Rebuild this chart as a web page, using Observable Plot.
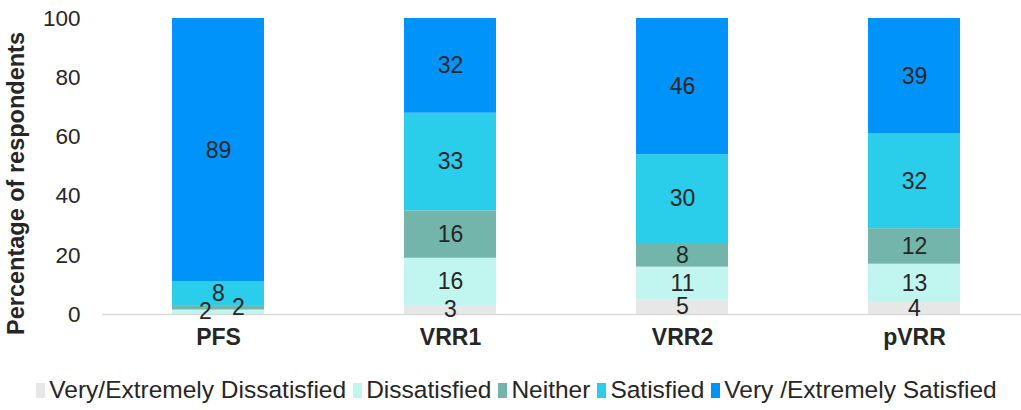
<!DOCTYPE html>
<html>
<head>
<meta charset="utf-8">
<script src="https://cdn.jsdelivr.net/npm/d3@7"></script>
<script src="https://cdn.jsdelivr.net/npm/@observablehq/plot@0.6"></script>
<style>
  html, body { margin: 0; padding: 0; background: #fff; }
  body { width: 1021px; height: 410px; overflow: hidden; font-family: "Liberation Sans", Arial, sans-serif; }
  #chart svg { display: block; }
  g[aria-label="y-axis label"] text { font-weight: bold; font-size: 23.5px; }
  g[aria-label="x-axis tick label"] text { font-weight: bold; }
  .legend { display: flex; justify-content: center; align-items: center; gap: 7px; font-size: 24.5px; color: #262626; margin-top: 14px; padding-left: 12px; white-space: nowrap; }
  .legend .item { display: flex; align-items: center; gap: 4px; }
  .legend .sw { width: 9px; height: 15px; display: inline-block; }
</style>
</head>
<body>
<div id="chart"></div>
<div class="legend" id="legend"></div>
<script>
const categories = ["PFS", "VRR1", "VRR2", "pVRR"];
const levels = ["Very/Extremely Dissatisfied", "Dissatisfied", "Neither", "Satisfied", "Very /Extremely Satisfied"];
const colors = ["#e7e7e7", "#c1f5ef", "#73b5aa", "#2acdea", "#0094fa"];
// values per category, in order of levels
const PFS  = [0, 1.5, 1.5, 8, 89];
const VRR1 = [3, 16, 16, 33, 32];
const VRR2 = [5, 11, 8, 30, 46];
const pVRR = [4, 13, 12, 32, 39];
const yTicks = [0, 20, 40, 60, 80, 100];

const series = {PFS, VRR1, VRR2, pVRR};
const data = [];
for (const c of categories) {
  series[c].forEach((v, i) => data.push({cat: c, level: levels[i], val: v}));
}

const isSmallPFS = d => d.cat === "PFS" && d.val < 5;
const stackOpts = {x: "cat", y: "val", z: "level", text: d => String(Math.round(d.val)), fill: "#262626", fontSize: 23};

const plot = Plot.plot({
  width: 1021,
  height: 362,
  marginTop: 18,
  marginBottom: 48,
  marginLeft: 102,
  marginRight: 0,
  style: {fontFamily: "'Liberation Sans', Arial, sans-serif", fontSize: "22.5px", color: "#262626", background: "#fff"},
  x: {domain: categories, range: [102, 1030], paddingInner: 0.6034, paddingOuter: 0.3017, label: null},
  y: {domain: [0, 100], label: null},
  color: {domain: levels, range: colors},
  marks: [
    Plot.barY(data, {x: "cat", y: "val", z: "level", fill: "level"}),
    Plot.ruleY([0], {stroke: "#d9d9d9", strokeWidth: 1.5}),
    Plot.text(data, Plot.filter(d => d.val > 0 && !isSmallPFS(d), Plot.stackY(stackOpts))),
    Plot.text(data, Plot.filter(d => isSmallPFS(d) && d.level === "Dissatisfied", Plot.stackY({...stackOpts, dx: -13, dy: -1}))),
    Plot.text(data, Plot.filter(d => isSmallPFS(d) && d.level === "Neither", Plot.stackY({...stackOpts, dx: 20, dy: 0}))),
    Plot.axisY({ticks: yTicks, tickSize: 0, tickPadding: 22, label: null, fontSize: 22.5}),
    Plot.axisY({ticks: [], tickSize: 0, label: "Percentage of respondents", labelAnchor: "center", labelOffset: 95, labelArrow: "none", fontSize: 23.5}),
    Plot.axisX({tickSize: 0, tickPadding: 14, label: null, fontSize: 23})
  ]
});
document.getElementById("chart").appendChild(plot);
d3.select(plot).selectAll('g[aria-label="y-axis label"] text').attr("dx", -17).style("font-weight", "bold");

const legend = document.getElementById("legend");
levels.forEach((l, i) => {
  const it = document.createElement("span");
  it.className = "item";
  const sw = document.createElement("span");
  sw.className = "sw";
  sw.style.background = colors[i];
  const tx = document.createElement("span");
  tx.textContent = l;
  it.appendChild(sw); it.appendChild(tx);
  legend.appendChild(it);
});
</script>
</body>
</html>
